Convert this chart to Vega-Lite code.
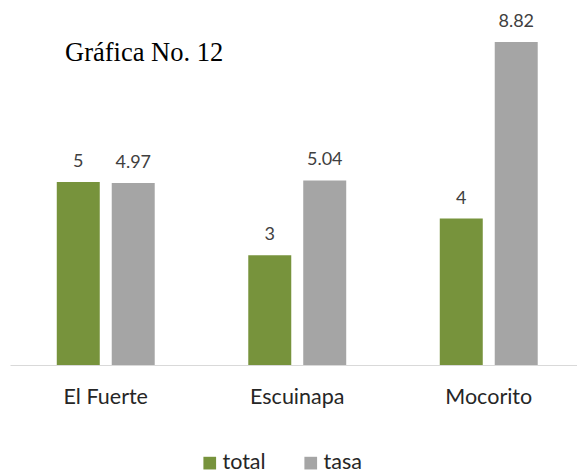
{
  "$schema": "https://vega.github.io/schema/vega-lite/v6.json",
  "width": 567,
  "height": 365,
  "autosize": "none",
  "padding": {"left": 10, "top": 0, "right": 0, "bottom": 109},
  "background": "white",
  "config": {"view": {"stroke": null}, "font": "Lato"},
  "title": {
    "text": "Gráfica No. 12",
    "anchor": "start",
    "frame": "group",
    "font": "Liberation Serif",
    "fontSize": 26.5,
    "fontWeight": "normal",
    "color": "#000000",
    "baseline": "alphabetic",
    "offset": 0,
    "dx": 55,
    "dy": 87
  },
  "data": {
    "values": [
      {"municipio": "El Fuerte", "serie": "total", "valor": 5},
      {"municipio": "El Fuerte", "serie": "tasa", "valor": 4.97},
      {"municipio": "Escuinapa", "serie": "total", "valor": 3},
      {"municipio": "Escuinapa", "serie": "tasa", "valor": 5.04},
      {"municipio": "Mocorito", "serie": "total", "valor": 4},
      {"municipio": "Mocorito", "serie": "tasa", "valor": 8.82}
    ]
  },
  "encoding": {
    "x": {
      "field": "municipio",
      "type": "nominal",
      "sort": ["El Fuerte", "Escuinapa", "Mocorito"],
      "scale": {"paddingInner": 0, "paddingOuter": 0, "range": [0, 574.5]},
      "axis": {
        "title": null,
        "labelAngle": 0,
        "domainColor": "#d9d9d9",
        "domainWidth": 1,
        "ticks": false,
        "labelFontSize": 21.5,
        "labelColor": "#262626",
        "labelPadding": 38,
        "labelBaseline": "alphabetic",
        "labelFont": "Lato"
      }
    },
    "xOffset": {
      "field": "serie",
      "type": "nominal",
      "sort": ["total", "tasa"],
      "scale": {"paddingInner": 0.218, "paddingOuter": 0.851}
    },
    "y": {
      "field": "valor",
      "type": "quantitative",
      "scale": {"domain": [0, 9.967], "nice": false, "zero": true},
      "axis": null
    }
  },
  "layer": [
    {
      "mark": {"type": "bar"},
      "encoding": {
        "color": {
          "field": "serie",
          "type": "nominal",
          "scale": {"domain": ["total", "tasa"], "range": ["#77933C", "#A5A5A5"]},
          "legend": {
            "orient": "none",
            "legendX": 189,
            "legendY": 452,
            "direction": "horizontal",
            "title": null,
            "symbolType": "square",
            "symbolSize": 161,
            "symbolStrokeWidth": 0,
            "labelFontSize": 21.5,
            "labelColor": "#262626",
            "labelFont": "Lato",
            "labelOffset": 2,
            "columnPadding": 34,
            "padding": 0
          }
        }
      }
    },
    {
      "mark": {"type": "text", "baseline": "alphabetic", "dy": -15, "fontSize": 18, "color": "#404040", "font": "Lato"},
      "encoding": {
        "text": {"field": "valor", "type": "quantitative", "format": ".3~"}
      }
    }
  ]
}
